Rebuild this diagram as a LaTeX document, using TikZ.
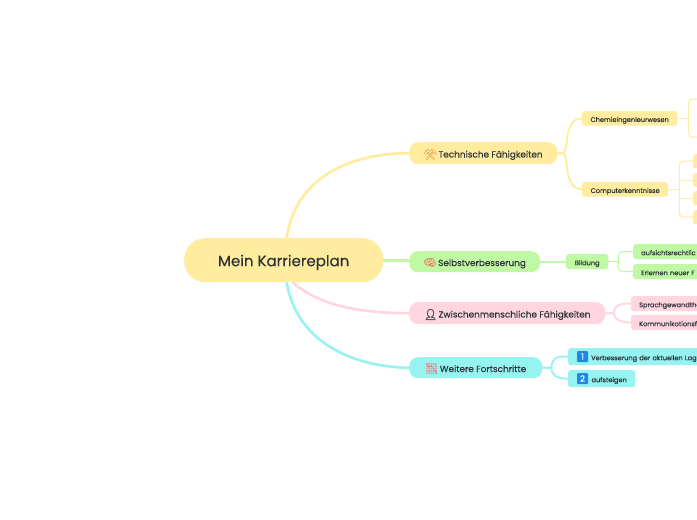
\documentclass[tikz,border=0pt]{standalone}
\usepackage{fontspec}
\setmainfont{Poppins}[FakeBold=0.25]
\newfontfamily\emojifont{Noto Emoji}
\newfontfamily\emojiheavy{Noto Emoji}[FakeBold=5]
\definecolor{cy}{HTML}{FFEC9E}
\definecolor{cg}{HTML}{BFF9A4}
\definecolor{cp}{HTML}{FFD6E0}
\definecolor{cc}{HTML}{96F3F0}
\definecolor{ink}{HTML}{2F3238}
\definecolor{kb}{HTML}{1E88E5}
\newcommand{\emo}[2]{\raisebox{-0.6pt}{\fontsize{10.5}{10}\selectfont\color{#1}\emojifont #2}\hspace{-1pt}}
\newcommand{\emoh}[2]{\raisebox{-0.6pt}{\fontsize{10.5}{10}\selectfont\color{#1}\emojiheavy #2}\hspace{-1pt}}
\tikzset{
  x=1pt,y=-1pt,
  base/.style={anchor=north west,inner sep=0pt,text=ink,align=center},
  rootbox/.style={base,rounded corners=21pt,font=\fontsize{15}{16}\selectfont,text height=12pt,text depth=0pt},
  mainbox/.style={base,rounded corners=9pt,font=\fontsize{8.9}{10}\selectfont,text height=8.6pt,text depth=0pt},
  subbox/.style={base,rounded corners=2.5pt,font=\fontsize{6.6}{8}\selectfont,text height=7pt,text depth=0pt},
  cutbox/.style={subbox,align=left,inner xsep=8pt},
  keybox/.style={anchor=center,inner sep=0pt,minimum size=11pt,rounded corners=1pt,fill=kb,text=white,font=\fontsize{8.5}{9}\selectfont},
  lone/.style={line width=2.6pt},
  ltwo/.style={line width=1.8pt},
  lthree/.style={line width=1pt,rounded corners=4pt},
}
\begin{document}
\begin{tikzpicture}
\useasboundingbox (0,0) rectangle (697,520);
\clip (0,0) rectangle (697,520);
\fill[white] (0,0) rectangle (697,520);
% central topic
\node[rootbox,fill=cy,minimum width=199pt,minimum height=44pt] (root) at (184,238) {Mein Karriereplan};
% main topics
\node[mainbox,fill=cy,minimum width=148pt,minimum height=22pt] (tech) at (409,142) {\emo{brown!70!orange}{⚒} Technische Fähigkeiten};
\node[mainbox,fill=cg,minimum width=131pt,minimum height=21pt] (selbst) at (409,251) {\emo{red!55!pink}{🧠} Selbstverbesserung};
\node[mainbox,fill=cp,minimum width=196pt,minimum height=22pt] (zwisch) at (409,302) {\emoh{black!65}{👤} Zwischenmenschliche Fähigkeiten};
\node[mainbox,fill=cc,minimum width=133pt,minimum height=21pt] (weiter) at (409,357) {\emo{red!60}{📉} Weitere Fortschritte};
% second level
\node[subbox,fill=cy,minimum width=95pt,minimum height=14.5pt] (chem) at (582,111) {Chemieingenieurwesen};
\node[subbox,fill=cy,minimum width=86pt,minimum height=14.5pt] (comp) at (582,182) {Computerkenntnisse};
\node[subbox,fill=cy,minimum width=12pt,minimum height=14pt] (c1) at (693,154) {};
\node[subbox,fill=cy,minimum width=12pt,minimum height=14pt] (c2) at (693,173) {};
\node[subbox,fill=cy,minimum width=12pt,minimum height=14pt] (c3) at (693,191) {};
\node[subbox,fill=cy,minimum width=12pt,minimum height=14pt] (c4) at (693,210) {};
\coordinate (e1) at (700,99);
\coordinate (e2) at (700,137);
\node[subbox,fill=cg,minimum width=42pt,minimum height=15pt] (bild) at (566,254) {Bildung};
\node[cutbox,fill=cg,text width=80pt,minimum height=15pt] (auf) at (633,244) {aufsichtsrechtlic};
\node[cutbox,fill=cg,text width=80pt,minimum height=15pt] (erl) at (633,264) {Erlernen neuer F};
\node[cutbox,fill=cp,text width=80pt,minimum height=15pt] (spr) at (631,296) {Sprachgewandthe};
\node[cutbox,fill=cp,text width=80pt,minimum height=15pt] (kom) at (631,315) {Kommunikationsf};
\node[cutbox,fill=cc,text width=130pt,minimum height=17pt,inner xsep=23pt] (ver) at (568,348) {Verbesserung der aktuellen Lag};
\node[subbox,fill=cc,minimum width=67pt,minimum height=17pt] (aus) at (568,370) {\hspace*{15pt}aufsteigen};
\node[keybox] (k1) at (582.5,356.5) {1};
\node[keybox] (k2) at (582.5,378.5) {2};
% connectors from the centre
\draw[lone,cy] ([xshift=3pt]root.north) .. controls (295,178) and (350,153) .. (tech.west);
\draw[lone,cg] (root.east) -- (root.east -| selbst.west);
\draw[lone,cp] ([xshift=9pt]root.south) .. controls (320,306) and (360,313) .. (zwisch.west);
\draw[lone,cc] ([xshift=3pt]root.south) .. controls (296,340) and (350,367) .. (weiter.west);
% second-level connectors
\draw[ltwo,cy] (tech.east) -- ++(5,0) .. controls (570,153) and (562,118) .. (chem.west);
\draw[ltwo,cy] (tech.east) -- ++(5,0) .. controls (570,153) and (562,189) .. (comp.west);
\draw[ltwo,cg] (selbst.east) -- (bild.west);
\draw[ltwo,cp] (zwisch.east) -- ++(8,0) .. controls (615,305) and (620,303) .. (spr.west);
\draw[ltwo,cp] (zwisch.east) -- ++(8,0) .. controls (615,320) and (620,322) .. (kom.west);
\draw[ltwo,cc] (weiter.east) -- ++(9,0) .. controls (552,358) and (556,356) .. (ver.west);
\draw[ltwo,cc] (weiter.east) -- ++(9,0) .. controls (552,376) and (556,378) .. (aus.west);
% third-level connectors
\draw[line width=1pt,cy] (chem.east) -- ++(11,0);
\draw[lthree,cy] (e1) -| ([xshift=11pt]chem.east) |- (e2);
\draw[line width=1pt,cy] (comp.east) -- ++(11,0);
\draw[lthree,cy] (c1.west) -| ([xshift=11pt]comp.east) |- (c4.west);
\draw[line width=1pt,cy] (c2.west) -- ([xshift=11pt]comp.east |- c2.west);
\draw[line width=1pt,cy] (c3.west) -- ([xshift=11pt]comp.east |- c3.west);
\draw[line width=1pt,cg] (bild.east) -- ++(10,0);
\draw[lthree,cg] (auf.west) -| ([xshift=10pt]bild.east) |- (erl.west);
\end{tikzpicture}
\end{document}
